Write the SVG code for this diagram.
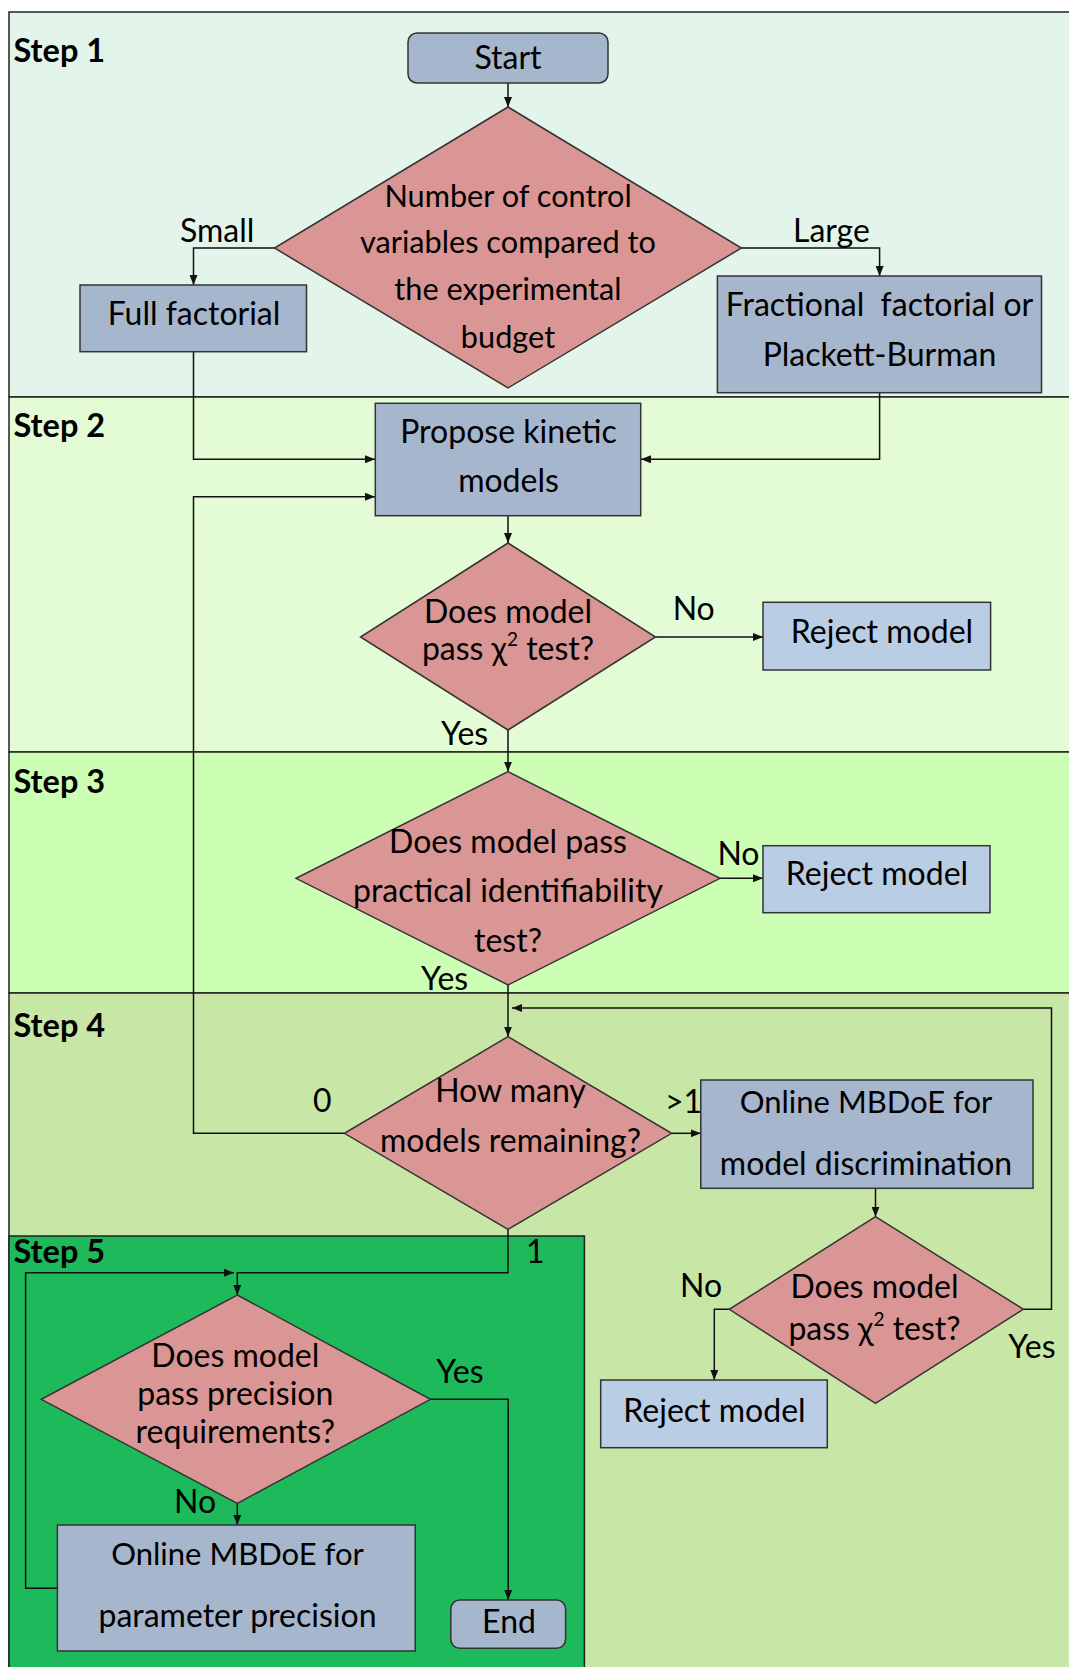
<svg xmlns="http://www.w3.org/2000/svg" width="1069" height="1667" viewBox="0 0 1069 1667">
<style>
.panel{stroke:#222;stroke-width:1.5}
.box{fill:#A6B6CC;stroke:#333;stroke-width:1.5}
.rej{fill:#B9CDE5;stroke:#333;stroke-width:1.5}
.dia{fill:#D99694;stroke:#333;stroke-width:1.5}
.t{font-family:Lato,'Liberation Sans',sans-serif;font-size:32px;fill:#000;text-anchor:middle}
.n{font-size:30.7px}
.m{font-size:31px}
.l{font-family:Lato,'Liberation Sans',sans-serif;font-size:32px;fill:#000}
.s{font-family:Lato,'Liberation Sans',sans-serif;font-size:32.5px;font-weight:bold;fill:#000}
.c{fill:none;stroke:#111;stroke-width:1.5;marker-end:url(#ah)}
</style>
<defs>
<marker id="ah" viewBox="0 0 10 8" refX="10" refY="4" markerWidth="10" markerHeight="8" orient="auto" markerUnits="userSpaceOnUse">
<path d="M0,0 L10,4 L0,8 z" fill="#111"/>
</marker>
</defs>
<rect width="1069" height="1667" fill="#fff"/>
<g id="panels">
<rect class="panel" x="9" y="12" width="1070" height="385" fill="#E3F4EA"/>
<rect class="panel" x="9" y="397" width="1070" height="355" fill="#E3FCD6"/>
<rect class="panel" x="9" y="752" width="1070" height="241" fill="#CCFFB3"/>
<rect class="panel" x="9" y="993" width="1070" height="690" fill="#C8E6A5"/>
<rect class="panel" x="9" y="1236" width="575.4" height="450" fill="#1DB95B"/>
<text class="s" x="13.5" y="61.7">Step 1</text>
<text class="s" x="13.5" y="436.7">Step 2</text>
<text class="s" x="13.5" y="793.3">Step 3</text>
<text class="s" x="13.5" y="1036.7">Step 4</text>
<text class="s" x="13.5" y="1263.3">Step 5</text>
</g>
<g id="connectors">
<path class="c" d="M508,83 V107"/>
<path class="c" d="M274.5,248 H193.5 V285"/>
<path class="c" d="M741.4,248 H879.6 V276"/>
<path class="c" d="M193.5,351.7 V459.3 H375"/>
<path class="c" d="M879.6,392.7 V459.3 H641"/>
<path class="c" d="M508,516 V543"/>
<path class="c" d="M655.5,637 H763"/>
<path class="c" d="M508,730 V771.7"/>
<path class="c" d="M720,878.3 H763"/>
<path class="c" d="M508,985 V1036.7"/>
<path class="c" d="M344.4,1133.3 H193.5 V496.7 H375"/>
<path class="c" d="M671.6,1133.3 H700.8"/>
<path class="c" d="M875.5,1188.3 V1216.7"/>
<path class="c" d="M729.3,1309.3 H714.3 V1380"/>
<path class="c" d="M1023.3,1309.3 H1051.5 V1008 H512"/>
<path class="c" d="M508,1229.3 V1272.7 H237.3 V1295"/>
<path class="c" d="M237.3,1503.3 V1525"/>
<path class="c" d="M57.4,1588.3 H25.6 V1272.7 H234"/>
<path class="c" d="M430.5,1399.3 H508.2 V1600"/>
<text class="l" x="180" y="242">Small</text>
<text class="l" x="793" y="242">Large</text>
<text class="l" x="672.7" y="620">No</text>
<text class="l" x="441" y="745">Yes</text>
<text class="l" x="717.4" y="865">No</text>
<text class="l" x="421" y="990">Yes</text>
<text class="l" x="313" y="1111.7">0</text>
<text class="l" x="665" y="1113.3">&gt;1</text>
<text class="l" x="680" y="1296.7">No</text>
<text class="l" x="1008.3" y="1358.3">Yes</text>
<text class="l" x="526" y="1263.3">1</text>
<text class="l" x="436.3" y="1382.7">Yes</text>
<text class="l" x="174" y="1513.3">No</text>
</g>
<g id="start">
<rect class="box" x="408" y="33" width="200" height="50" rx="9"/>
<text class="t" x="508" y="69">Start</text>
</g>
<g id="d1">
<polygon class="dia" points="508,107 741.4,248 508,388 274.5,248"/>
<text class="t n" x="508" y="207">Number of control</text>
<text class="t n" x="508" y="253">variables compared to</text>
<text class="t n" x="508" y="300">the experimental</text>
<text class="t n" x="508" y="348">budget</text>
</g>
<g id="full">
<rect class="box" x="80" y="285" width="226.5" height="66.7"/>
<text class="t" x="194" y="325">Full factorial</text>
</g>
<g id="frac">
<rect class="box" x="717.4" y="276" width="324.1" height="116.7"/>
<text class="t" x="879.5" y="316" xml:space="preserve">Fractional  factorial or</text>
<text class="t" x="879.5" y="366">Plackett-Burman</text>
</g>
<g id="propose">
<rect class="box" x="375.3" y="403.3" width="265.4" height="112.4"/>
<text class="t" x="508.5" y="443">Propose kinetic</text>
<text class="t" x="508.5" y="491.7">models</text>
</g>
<g id="d2">
<polygon class="dia" points="508,543 655.5,637 508,730 360.5,637"/>
<text class="t" x="508" y="623">Does model</text>
<text class="t" x="508" y="660">pass χ<tspan font-size="19" dy="-14">2</tspan><tspan dy="14"> test?</tspan></text>
</g>
<g id="rej1">
<rect class="rej" x="763" y="602.3" width="227.6" height="67.7"/>
<text class="t" x="882" y="643">Reject model</text>
</g>
<g id="d3">
<polygon class="dia" points="508,771.7 720,878.3 508,985 296,878.3"/>
<text class="t" x="508" y="852.7">Does model pass</text>
<text class="t" x="508" y="901.7">practical identifiability</text>
<text class="t" x="508" y="951.7">test?</text>
</g>
<g id="rej2">
<rect class="rej" x="763" y="845.7" width="227" height="67"/>
<text class="t" x="877" y="885">Reject model</text>
</g>
<g id="d4">
<polygon class="dia" points="508,1036.7 671.6,1133.3 508,1229.3 344.4,1133.3"/>
<text class="t" x="510.5" y="1101.7">How many</text>
<text class="t" x="510.5" y="1151.7">models remaining?</text>
</g>
<g id="mbdoe-disc">
<rect class="box" x="700.8" y="1080" width="332.2" height="108.3"/>
<text class="t m" x="866" y="1113.3">Online MBDoE for</text>
<text class="t" x="866" y="1175">model discrimination</text>
</g>
<g id="d5">
<polygon class="dia" points="875.5,1216.7 1023.3,1309.3 875.5,1403.3 729.3,1309.3"/>
<text class="t" x="874.5" y="1298.3">Does model</text>
<text class="t" x="874.5" y="1340">pass χ<tspan font-size="19" dy="-14">2</tspan><tspan dy="14"> test?</tspan></text>
</g>
<g id="rej3">
<rect class="rej" x="600.7" y="1380" width="226.6" height="67.7"/>
<text class="t" x="714.5" y="1421.7">Reject model</text>
</g>
<g id="d6">
<polygon class="dia" points="237.3,1295 430.5,1399.3 237.3,1503.3 41.3,1399.3"/>
<text class="t" x="235.3" y="1366.7">Does model</text>
<text class="t" x="235.3" y="1405">pass precision</text>
<text class="t" x="235.3" y="1442.7">requirements?</text>
</g>
<g id="mbdoe-prec">
<rect class="box" x="57.4" y="1525" width="357.8" height="126"/>
<text class="t m" x="237.5" y="1565">Online MBDoE for</text>
<text class="t" x="237.5" y="1627.3">parameter precision</text>
</g>
<g id="end">
<rect class="box" x="450.8" y="1600" width="114.8" height="48.3" rx="9"/>
<text class="t" x="509" y="1632.7">End</text>
</g>
</svg>
